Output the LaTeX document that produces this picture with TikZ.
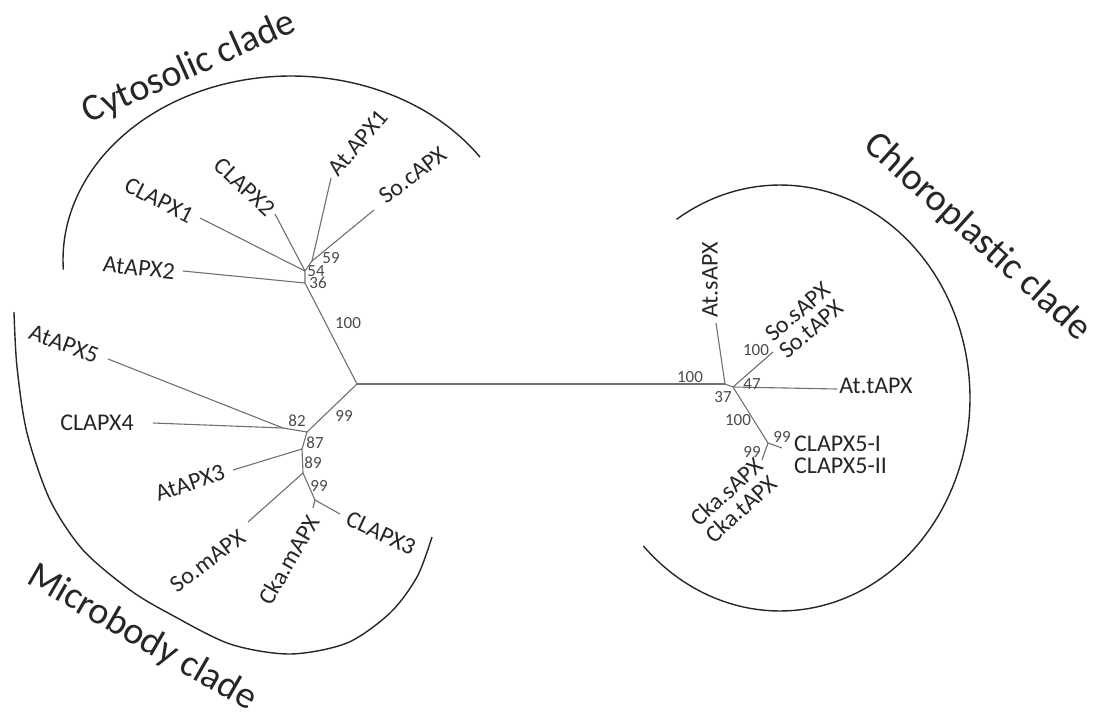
\documentclass[tikz,border=0pt]{standalone}
\usepackage{fontspec}
\setmainfont{Carlito}
\definecolor{inkgray}{HTML}{262626}
\definecolor{twiggray}{HTML}{707070}
\definecolor{bootgray}{HTML}{4A4A4A}
\tikzset{
  twig/.style={draw=twiggray, line width=1.1pt},
  rim/.style={draw=inkgray, line width=1.4pt},
  leaf/.style={inner sep=0pt, text=inkgray, font=\fontsize{24}{22.5}\selectfont},
  boot/.style={inner sep=0pt, text=bootgray, font=\fontsize{17}{17}\selectfont},
  clade/.style={inner sep=0pt, text=inkgray, font=\fontsize{38}{38}\selectfont}
}
\begin{document}
\begin{tikzpicture}[x=1pt, y=-1pt]
    \useasboundingbox (0,0) rectangle (1101,720);

    % tree: inner nodes and tips
    \coordinate (R) at (357,384);
    \coordinate (cy1) at (305,283);
    \coordinate (cy2) at (305,271);
    \coordinate (cy3) at (312,261);
    \coordinate (mb1) at (307,432);
    \coordinate (mb0) at (283,428);
    \coordinate (mb2) at (302,449);
    \coordinate (mb3) at (303,473);
    \coordinate (mb4) at (315,500);
    \coordinate (ch0) at (725,384);
    \coordinate (ch1) at (733,387);
    \coordinate (ch2) at (768,443);
    \foreach \n/\x/\y in {tAtAPX2/183/271, tCLAPX1/200/218, tCLAPX2/275/214,
                          tAtAPX1/331/178, tSocAPX/374/210,
                          tAtAPX5/108/359, tCLAPX4/153/423, tAtAPX3/233/470,
                          tSomAPX/248/522, tCkamAPX/313/508, tCLAPX3/340/514,
                          tAtsAPX/716/323, tSosAPX/773/352, tAttAPX/837/389,
                          tCLAPX5/782/448, tCkasAPX/762/460}
        {\coordinate (\n) at (\x,\y);}

    \draw[twig] (R) -- (ch0);
    \draw[twig] (R) -- (cy1) -- (cy2) -- (cy3);
    \draw[twig] (cy1) -- (tAtAPX2);
    \draw[twig] (cy2) -- (tCLAPX1);
    \draw[twig] (cy2) -- (tCLAPX2);
    \draw[twig] (cy3) -- (tAtAPX1);
    \draw[twig] (cy3) -- (tSocAPX);
    \draw[twig] (R) -- (mb1) -- (mb2) -- (mb3) -- (mb4);
    \draw[twig] (mb1) -- (mb0);
    \draw[twig] (mb0) -- (tAtAPX5);
    \draw[twig] (mb0) -- (tCLAPX4);
    \draw[twig] (mb2) -- (tAtAPX3);
    \draw[twig] (mb3) -- (tSomAPX);
    \draw[twig] (mb4) -- (tCkamAPX);
    \draw[twig] (mb4) -- (tCLAPX3);
    \draw[twig] (ch0) -- (tAtsAPX);
    \draw[twig] (ch0) -- (ch1) -- (ch2);
    \draw[twig] (ch1) -- (tSosAPX);
    \draw[twig] (ch1) -- (tAttAPX);
    \draw[twig] (ch2) -- (tCLAPX5);
    \draw[twig] (ch2) -- (tCkasAPX);

    % leaf names
    \foreach \n/\x/\y/\a/\t in {lAtAPX2/139/268/-6/AtAPX2, lCLAPX1/159/200/-27/CLAPX1,
                                lCLAPX2/245/187/-43/CLAPX2, lAtAPX1/358/143/50/At.APX1,
                                lSocAPX/413/175/37/So.cAPX,
                                lAtAPX5/64/344/-20/AtAPX5, lCLAPX4/97/423/0/CLAPX4,
                                lAtAPX3/190/483/19/AtAPX3, lSomAPX/208/561/37/So.mAPX,
                                lCkamAPX/289/560/60/Cka.mAPX, lCLAPX3/381/533/-25/CLAPX3,
                                lAtsAPX/710/280/90/At.sAPX, lAttAPX/876/386/0/At.tAPX}
        {\node[leaf, rotate=\a] (\n) at (\x,\y) {\t};}
    \node[leaf, rotate=40, align=left] (lSoAPX) at (805,320) {So.sAPX\\So.tAPX};
    \node[leaf, anchor=west, align=left] (lCLAPX5) at (794,455) {CLAPX5-I\\CLAPX5-II};
    \node[leaf, rotate=42, align=left] (lCkaAPX) at (734,500) {Cka.sAPX\\Cka.tAPX};

    % bootstrap values
    \foreach \x/\y/\v [count=\i] in {331/258/59, 316/271/54, 318/283/36, 348/323/100,
                                     344/416/99, 297/421/82, 315/443/87, 313/463/89, 319/486/99,
                                     690/377/100, 723/397/37, 752/384/47, 756/350/100,
                                     738/420/100, 782/437/99, 752/452/99}
        {\node[boot] (b\i) at (\x,\y) {\v};}

    % clade rims and names
    \draw[rim] plot[domain=34:183, samples=90] ({291+228*cos(\x)}, {260-184*sin(\x)});
    \draw[rim] plot[domain=-136:123, samples=120] ({780+190*cos(\x)}, {398-213*sin(\x)});
    \draw[rim] plot[smooth] coordinates {(14,312) (17,367) (27,433) (50,500) (83,550)
        (130,590) (170,614) (230,644) (290,654) (347,643) (390,613) (417,577) (432,537)};
    \node[clade, rotate=24] (cyto) at (189,68) {Cytosolic clade};
    \node[clade, rotate=-42] (chloro) at (977,237) {Chloroplastic clade};
    \node[clade, rotate=-30] (micro) at (142,638) {Microbody clade};
\end{tikzpicture}
\end{document}
